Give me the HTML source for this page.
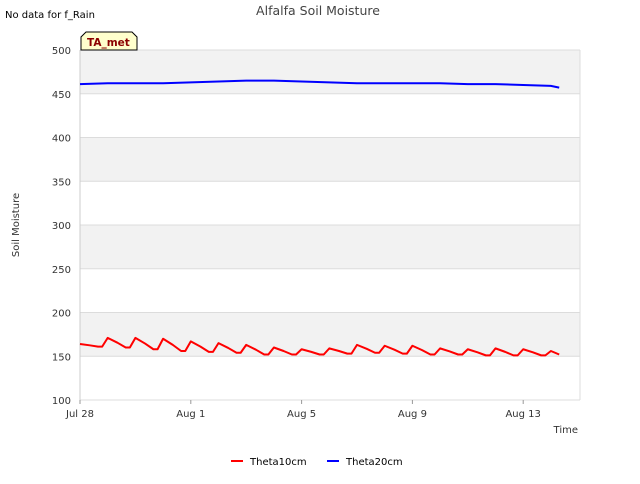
<!DOCTYPE html>
<html><head><meta charset="utf-8"><style>
body{margin:0;background:#fff;font-family:"DejaVu Sans",sans-serif;}
svg text{font-family:"DejaVu Sans","Liberation Sans",sans-serif;}
</style></head><body>
<svg id="c" width="640" height="480">
<text x="5" y="18" font-size="10" fill="#000">No data for f_Rain</text>
<text x="318" y="15" font-size="12.5" fill="#444" text-anchor="middle">Alfalfa Soil Moisture</text>
<text x="19" y="225" font-size="10" fill="#333" text-anchor="middle" transform="rotate(-90 19 225)">Soil Moisture</text>
<text x="578" y="433" font-size="10" fill="#333" text-anchor="end">Time</text>
<g id="bands"></g><g id="grid"></g><g id="ticks"></g><g id="series"></g>
<g>
<path d="M81,50 L81,37 L86,32 L132,32 L137,37 L137,50 Z" fill="#ffffcc" stroke="#000" stroke-width="1"/>
<text x="87" y="46" font-size="10.5" font-weight="bold" fill="#8b0000">TA_met</text></g>
<g>
<line x1="231" y1="461" x2="243" y2="461" stroke="red" stroke-width="2"/>
<text x="250" y="465" font-size="10" fill="#000">Theta10cm</text>
<line x1="327" y1="461" x2="339" y2="461" stroke="blue" stroke-width="2"/>
<text x="346" y="465" font-size="10" fill="#000">Theta20cm</text></g>
</svg>
<script>
const yTicks=[100,150,200,250,300,350,400,450,500];
const xTickLabels=["Jul 28","Aug 1","Aug 5","Aug 9","Aug 13"];
const xTickDays=[0,4,8,12,16];
const redPeaks=[164,171,171,170,167,165,163,160,158,159,163,162,162,159,158,159,158,156];
const redTroughs=[161,160,158,156,155,154,152,152,152,153,154,153,152,152,151,151,151,153];
const redEnd=[17.3,152];
const blueDays=[0,1,2,3,4,5,6,7,8,9,10,11,12,13,14,15,16,17,17.3];
const blueVals=[461,462,462,462,463,464,465,465,464,463,462,462,462,462,461,461,460,459,457];
const L=80,R=580,T=50,B=400,pxDay=27.7;
const X=d=>L+d*pxDay, Y=v=>B-(v-100)*(B-T)/400;
const NS="http://www.w3.org/2000/svg";
function mk(t,a,p){const e=document.createElementNS(NS,t);for(const k in a)e.setAttribute(k,a[k]);p.appendChild(e);return e;}
const bands=document.getElementById('bands'),grid=document.getElementById('grid'),ticks=document.getElementById('ticks'),series=document.getElementById('series');
mk('rect',{x:L,y:T,width:R-L,height:B-T,fill:'#fff'},bands);
for(let i=0;i<yTicks.length-1;i++){if(i%2==1){const r=mk('rect',{x:L,y:Y(yTicks[i+1]),width:R-L,height:Y(yTicks[i])-Y(yTicks[i+1]),fill:'#f2f2f2'},bands);

}}
yTicks.forEach(v=>{mk('line',{x1:L,x2:R,y1:Y(v),y2:Y(v),stroke:'#dcdcdc','stroke-width':1},grid);
const t=mk('text',{x:L-9,y:Y(v)+4,'font-size':10,fill:'#333','text-anchor':'end'},ticks);t.textContent=v;

});
mk('line',{x1:L,x2:L,y1:T,y2:B,stroke:'#ccc'},grid);mk('line',{x1:R,x2:R,y1:T,y2:B,stroke:'#dcdcdc'},grid);
xTickDays.forEach((d,i)=>{mk('line',{x1:X(d),x2:X(d),y1:B,y2:B+4,stroke:'#999'},ticks);
const t=mk('text',{x:X(d),y:B+17,'font-size':10,fill:'#333','text-anchor':'middle'},ticks);t.textContent=xTickLabels[i];

});
let rp=[];
redPeaks.forEach((p,i)=>{rp.push([X(i),Y(p)]);rp.push([X(i+0.35),Y((p+redTroughs[i])/2)]);rp.push([X(i+0.65),Y(redTroughs[i])]);rp.push([X(i+0.8),Y(redTroughs[i])]);});
rp=rp.filter(q=>q[0]<=X(redEnd[0]));rp.push([X(redEnd[0]),Y(redEnd[1])]);
const red=mk('polyline',{points:rp.map(q=>q.join(',')).join(' '),fill:'none',stroke:'red','stroke-width':2,'stroke-linejoin':'round'},series);


const bp=blueDays.map((d,i)=>X(d)+','+Y(blueVals[i])).join(' ');
const blue=mk('polyline',{points:bp,fill:'none',stroke:'blue','stroke-width':2},series);


</script>
</body></html>
